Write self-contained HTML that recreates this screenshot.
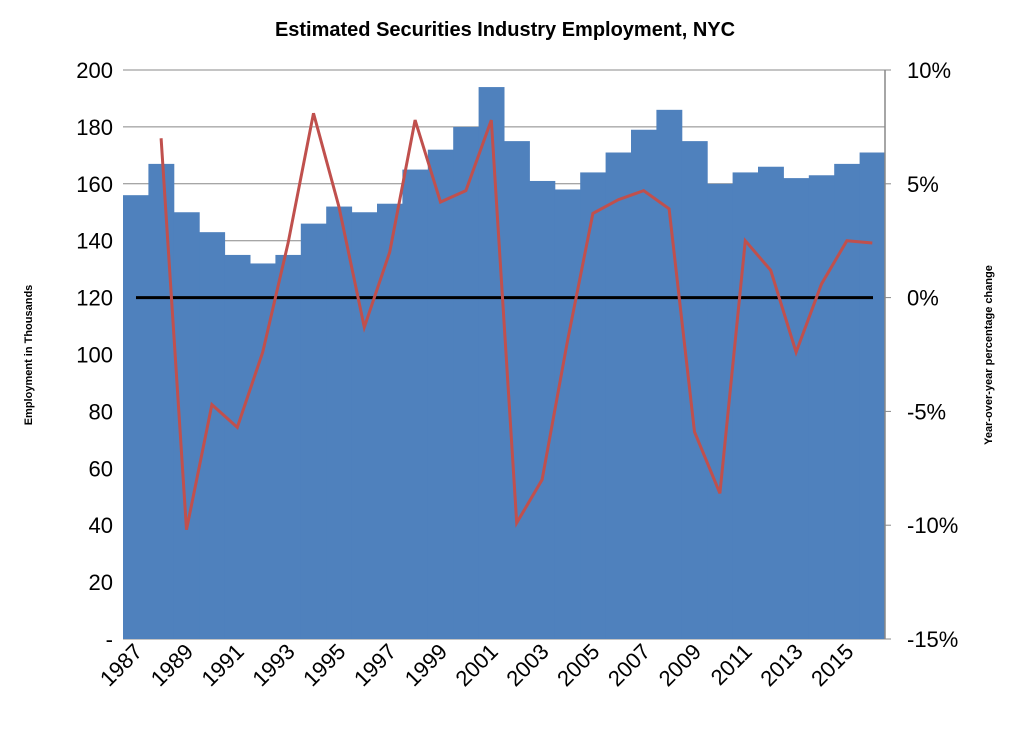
<!DOCTYPE html>
<html><head><meta charset="utf-8"><style>
body{margin:0;background:#fff;font-family:"Liberation Sans",sans-serif;}
</style></head><body>
<svg id="chart" width="1010" height="731" xmlns="http://www.w3.org/2000/svg">
<text x="505" y="36" text-anchor="middle" font-size="20" font-weight="bold">Estimated Securities Industry Employment, NYC</text>
<text transform="translate(32,355) rotate(-90)" text-anchor="middle" font-size="11" font-weight="bold">Employment in Thousands</text>
<text transform="translate(992,355) rotate(-90)" text-anchor="middle" font-size="11" font-weight="bold">Year-over-year percentage change</text>
<g id="grid"></g><g id="bars"></g><g id="axes"></g><g id="line"></g>
</svg>
<script>
const years=[1987,1988,1989,1990,1991,1992,1993,1994,1995,1996,1997,1998,1999,2000,2001,2002,2003,2004,2005,2006,2007,2008,2009,2010,2011,2012,2013,2014,2015,2016];
const employment=[156,167,150,143,135,132,135,146,152,150,153,165,172,180,194,175,161,158,164,171,179,186,175,160,164,166,162,163,167,171];
const pctChange=[null,7.0,-10.2,-4.7,-5.7,-2.4,2.4,8.1,4.0,-1.3,2.0,7.8,4.2,4.7,7.8,-9.9,-8.0,-1.9,3.7,4.3,4.7,3.9,-5.9,-8.6,2.5,1.2,-2.4,0.6,2.5,2.4];
const leftTicks=[0,20,40,60,80,100,120,140,160,180,200];
const rightTicks=[-15,-10,-5,0,5,10];
const NS="http://www.w3.org/2000/svg";
const L=123,R=885,T=70,B=639;
const bw=(R-L)/years.length;
const y=v=>B-(v/200)*(B-T);
const y2=v=>B-((v+15)/25)*(B-T);
const xc=i=>L+bw*(i+0.5);
function mk(tag,attrs,parent){const e=document.createElementNS(NS,tag);for(const k in attrs)e.setAttribute(k,attrs[k]);document.getElementById(parent).appendChild(e);return e;}
leftTicks.forEach(t=>{
 const g=mk('line',{x1:L,x2:R,y1:y(t),y2:y(t),stroke:'#888','stroke-width':1},'grid');
 
 
 const tx=mk('text',{x:L-10,y:y(t)+8,'text-anchor':'end','font-size':22},'axes');
 tx.textContent=t===0?'-':t;
 
 
});
rightTicks.forEach(t=>{
 const tk=mk('line',{x1:R,x2:R+6,y1:y2(t),y2:y2(t),stroke:'#888'},'axes');
 
 
 const tx=mk('text',{x:R+22,y:y2(t)+8,'font-size':22},'axes');
 tx.textContent=t+'%';
 
 
});
employment.forEach((v,i)=>{
 const r=mk('rect',{x:L+bw*i,y:y(v),width:bw+0.5,height:B-y(v),fill:'#4f81bd'},'bars');
 
 
 if(i%2===0){
  const tx=mk('text',{'font-size':22,'text-anchor':'end',transform:`translate(${xc(i)+8},${B+14}) rotate(-45)`},'axes');
  tx.textContent=years[i];
  
  
 }
});
const ax=mk('line',{x1:R,x2:R,y1:T,y2:B,stroke:'#888','stroke-width':1.5},'axes');


const zl=mk('line',{x1:136,x2:873,y1:y2(0),y2:y2(0),stroke:'#000','stroke-width':3},'line');


let pts=[];
pctChange.forEach((v,i)=>{if(v!==null)pts.push(xc(i)+','+y2(v));});
const pl=mk('polyline',{points:pts.join(' '),fill:'none',stroke:'#c0504d','stroke-width':3,'stroke-linejoin':'miter'},'line');


</script>
</body></html>
